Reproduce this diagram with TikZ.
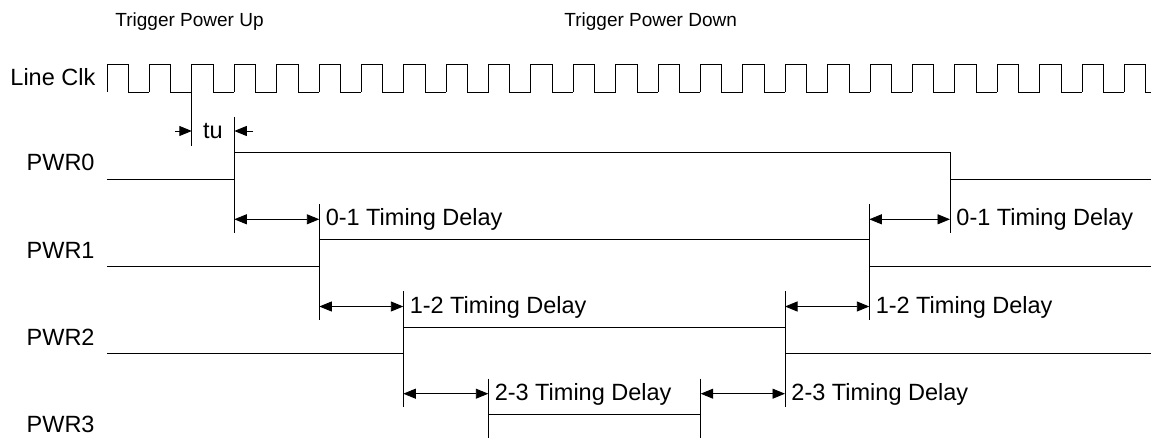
\documentclass[tikz,border=0pt]{standalone}
\usepackage{fontspec}
\setmainfont{Liberation Sans}
\usepackage{tikz}
\usetikzlibrary{arrows.meta}

\begin{document}
\begin{tikzpicture}[x=1pt,y=-1pt,line width=0.9pt,
    dimarrow/.style={{Triangle[length=12.5pt,width=10pt]}-{Triangle[length=12.5pt,width=10pt]}},
    tuarrow/.style={-{Triangle[length=12.5pt,width=10pt]}},
    lbl/.style={font=\fontsize{23.5}{28}\selectfont,inner sep=0pt,anchor=base west},
    trig/.style={font=\fontsize{19}{23}\selectfont,inner sep=0pt,anchor=base west}]
  \useasboundingbox (0,0) rectangle (1151,438);
  % ---- trigger labels ----
  \node[trig] (trigup) at (115,26.7) {Trigger Power Up};
  \node[trig] (trigdown) at (564,26.7) {Trigger Power Down};
  % ---- line clock ----
  \node[lbl] (clk) at (10,86) {Line Clk};
  \foreach \k in {0,...,24}{
      \pgfmathsetmacro{\xa}{107+42.39*\k}
      \draw (\xa,92) -- (\xa,64) -- ++(21.4,0) -- ++(0,28) -- ++(21,0);}
  % ---- tu ----
  \draw (191.8,92) -- (191.8,146);
  \draw (234.3,117) -- (234.3,232.8);
  \draw[tuarrow] (175,131) -- (191.8,131);
  \draw[tuarrow] (253,131) -- (234.3,131);
  \node[lbl,anchor=base] (tu) at (212.8,139) {tu};
  % ---- power signals ----
  \foreach \i in {0,...,3}{
      \node[lbl] (pwr\i) at (26.2,171+87.2*\i) {PWR\i};}
  \foreach \i/\r/\f in {0/234.3/950, 1/319.3/869.3, 2/403.3/785}{
      \pgfmathsetmacro{\yhi}{152.7+87.2*\i}
      \pgfmathsetmacro{\ylo}{\yhi+26.6}
      \draw (107,\ylo) -- (\r,\ylo) -- (\r,\yhi) -- (\f,\yhi) -- (\f,\ylo) -- (1151,\ylo);}
  \draw (488.3,438) -- (488.3,414.3) -- (700.7,414.3) -- (700.7,438);
  % ---- edge markers ----
  \draw (950,152.7) -- (950,232.8);
  \foreach \i/\r/\f in {1/319.3/869.3, 2/403.3/785, 3/488.3/700.7}{
      \pgfmathsetmacro{\ytop}{219.3+87.2*(\i-1)-15}
      \pgfmathsetmacro{\ybot}{min(219.3+87.2*\i+13.5,438)}
      \draw (\r,\ytop) -- (\r,\ybot);
      \draw (\f,\ytop) -- (\f,\ybot);}
  % ---- timing delays ----
  \foreach \i/\ra/\rb/\fa/\fb/\txt in {0/234.3/319.3/869.3/950/0-1,
        1/319.3/403.3/785/869.3/1-2, 2/403.3/488.3/700.7/785/2-3}{
      \pgfmathsetmacro{\ya}{219.3+87.2*\i}
      \draw[dimarrow] (\ra,\ya) -- (\rb,\ya);
      \draw[dimarrow] (\fa,\ya) -- (\fb,\ya);
      \node[lbl] (dl\i) at (\rb+6,\ya+6.5) {\txt\ Timing Delay};
      \node[lbl] (dr\i) at (\fb+6,\ya+6.5) {\txt\ Timing Delay};}
\end{tikzpicture}
\end{document}
